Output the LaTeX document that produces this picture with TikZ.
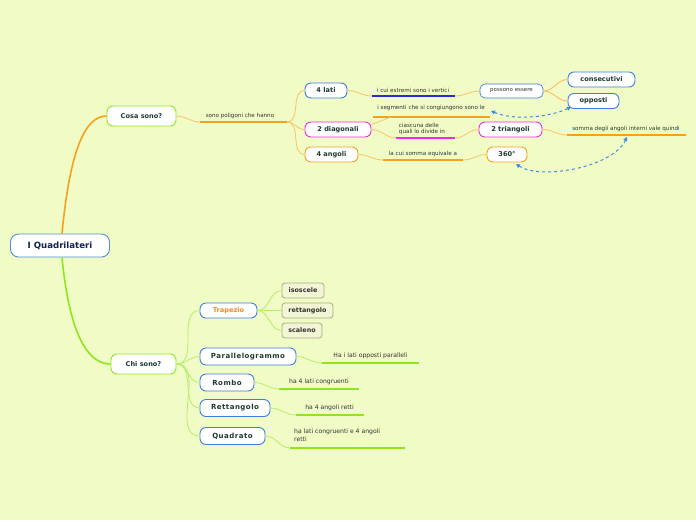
\documentclass[tikz,border=0pt]{standalone}
\usepackage{fontspec}
\setmainfont{DejaVu Sans}
\usetikzlibrary{arrows.meta}
\definecolor{bg}{HTML}{F1FBC5}
\definecolor{morange}{HTML}{F7A01E}
\definecolor{lorange}{HTML}{F8C46A}
\definecolor{mgreen}{HTML}{8EE61E}
\definecolor{lgreen}{HTML}{B6EE6A}
\definecolor{bblue}{HTML}{3C7FE2}
\definecolor{rblue}{HTML}{4A92D4}
\definecolor{mag}{HTML}{F02CE0}
\definecolor{gbord}{HTML}{A9AC84}
\definecolor{gfill}{HTML}{F3F6D4}
\definecolor{txt}{HTML}{1E3A2E}
\definecolor{rtxt}{HTML}{102050}
\definecolor{ltxt}{HTML}{333333}
\definecolor{dblue}{HTML}{2A2AD6}
\definecolor{dash}{HTML}{3A8EE2}
\definecolor{trap}{HTML}{F08A2A}
\tikzset{
  box/.style={draw, line width=0.9pt, rounded corners=6pt, fill=white, text=txt,
    font=\bfseries\fontsize{6.6}{8}\selectfont, minimum height=15pt, inner sep=1pt},
  bigbox/.style={box, font=\bfseries\fontsize{7}{8}\selectfont\addfontfeature{LetterSpace=7}, minimum height=17pt},
  gbox/.style={draw=gbord, line width=0.8pt, rounded corners=3pt, fill=gfill, text=ltxt,
    font=\bfseries\fontsize{6.4}{8}\selectfont, minimum height=15pt, inner sep=1pt},
  lab/.style={text=ltxt, font=\fontsize{5.6}{6.8}\selectfont, inner sep=0pt},
  blab/.style={text=ltxt, font=\fontsize{6.1}{8.4}\selectfont, inner sep=0pt},
  conO/.style={draw=lorange, line width=0.8pt},
  conG/.style={draw=lgreen, line width=0.8pt},
  ulO/.style={draw=morange, line width=1.4pt},
  ulG/.style={draw=mgreen, line width=1.4pt},
  darr/.style={draw=dash, line width=1pt, dashed, {Triangle[length=4pt,width=4pt]}-{Triangle[length=4pt,width=4pt]}},
}
\begin{document}
\begin{tikzpicture}[x=1pt,y=-1pt]
\fill[bg] (0,0) rectangle (696,520);
\useasboundingbox (0,0) rectangle (696,520);

% root and main topics
\node[draw=rblue, line width=0.9pt, rounded corners=8pt, fill=white, text=rtxt,
  font=\bfseries\fontsize{8.6}{10}\selectfont, minimum width=99pt, minimum height=23pt] (root) at (60,245.5) {I Quadrilateri};
\node[box, draw=mgreen, minimum width=69pt, minimum height=20pt] (cosa) at (141.5,116) {Cosa sono?};
\node[box, draw=mgreen, minimum width=65pt, minimum height=20pt] (chi) at (143.5,364) {Chi sono?};

\draw[draw=morange, line width=1.6pt] (root.north) ++(2,0) coordinate (rt) .. controls (70,150) and (85,116) .. (cosa.west);
\draw[draw=mgreen, line width=1.6pt] (root.south) ++(2,0) coordinate (rb) .. controls (70,340) and (90,364) .. (chi.west);

% Cosa sono branch
\node[lab] (spn) at (240,116) {sono poligoni che hanno};
\coordinate (u1a) at (200,122); \coordinate (u1b) at (287,122);
\draw[ulO] (u1a) -- (u1b);
\draw[conO] (cosa.east) to[out=0,in=180] (u1a);

\node[box, draw=bblue, minimum width=42pt] (lati) at (326,90.5) {4 lati};
\node[box, draw=mag, minimum width=66pt] (diag) at (338,129.5) {2 diagonali};
\node[box, draw=morange, minimum width=53pt] (ang) at (331.5,154.5) {4 angoli};
\draw[conO] (u1b) to[out=0,in=180] (lati.west);
\draw[conO] (u1b) to[out=0,in=180] (diag.west);
\draw[conO] (u1b) to[out=0,in=180] (ang.west);

% 4 lati
\node[lab] (est) at (413,90) {i cui estremi sono i vertici};
\coordinate (u2a) at (372,96); \coordinate (u2b) at (455,96);
\draw[draw=dblue, line width=1.4pt] (u2a) -- (u2b);
\draw[conO] (lati.east) to[out=0,in=180] (u2a);
\node[box, draw=bblue, line width=0.7pt, font=\fontsize{5.5}{6.5}\selectfont, text=ltxt, minimum width=63pt, minimum height=14pt, rounded corners=5pt] (pos) at (511.5,91) {possono essere};
\draw[conO] (u2b) to[out=0,in=180] (pos.west);
\node[box, draw=bblue, minimum width=67pt] (cons) at (601.5,79.5) {consecutivi};
\node[box, draw=bblue, minimum width=51pt] (opp) at (593.5,101) {opposti};
\draw[conO, line width=1pt] (pos.east) to[out=0,in=180] (cons.west);
\draw[conO, line width=1pt] (pos.east) to[out=0,in=180] (opp.west);

% 2 diagonali
\node[lab] (seg) at (431,108) {i segmenti che si congiungono sono le};
\coordinate (u3a) at (373,117); \coordinate (u3b) at (490,117);
\draw[ulO] (u3a) -- (u3b);
\coordinate (segc) at (391,117);
\draw[conO] (diag.north east) ++(0,3) coordinate (dne) -- (segc);
\node[lab, align=left] (cia) at (422,129) {ciascuna delle\\quali lo divide in};
\coordinate (u4a) at (396,138); \coordinate (u4b) at (455,138);
\draw[draw=mag, line width=1.4pt] (u4a) -- (u4b);
\draw[conO] (diag.east) to[out=0,in=180] (u4a);
\node[box, draw=mag, minimum width=63pt] (tri) at (510.5,129.5) {2 triangoli};
\draw[conO] (u4b) to[out=0,in=180] (tri.west);
\node[lab] (som) at (626,128.5) {somma degli angoli interni vale quindi};
\coordinate (u5a) at (567,135); \coordinate (u5b) at (686,135);
\draw[ulO] (u5a) -- (u5b);
\draw[conO] (tri.east) to[out=0,in=180] (u5a);

% 4 angoli
\node[lab] (cui) at (423,154) {la cui somma equivale a};
\coordinate (u6a) at (383,160); \coordinate (u6b) at (463,160);
\draw[ulO] (u6a) -- (u6b);
\draw[conO] (ang.east) to[out=0,in=180] (u6a);
\node[box, draw=morange, minimum width=40pt] (gradi) at (507,154.5) {360°};
\draw[conO] (u6b) to[out=0,in=180] (gradi.west);

% dashed relations
\coordinate (segend) at (491,111);
\coordinate (oppend) at (571,107);
\draw[darr] (segend) .. controls (515,121) and (550,117) .. (oppend);
\coordinate (gradend) at (516,164);
\coordinate (somend) at (627,137);
\draw[darr] (gradend) .. controls (540,180) and (612,168) .. (somend);

% Chi sono branch
\node[box, draw=bblue, text=trap, minimum width=57pt] (trap) at (228.5,310.5) {Trapezio};
\node[gbox, minimum width=42pt] (iso) at (303,290.5) {isoscele};
\node[gbox, minimum width=51pt] (ret) at (307.5,310.5) {rettangolo};
\node[gbox, minimum width=40pt] (sca) at (302,330.5) {scaleno};
\draw[conG] (trap.east) to[out=0,in=180] (iso.west);
\draw[conG] (trap.east) to[out=0,in=180] (ret.west);
\draw[conG] (trap.east) to[out=0,in=180] (sca.west);

\node[bigbox, draw=bblue, minimum width=96pt] (par) at (248,356.5) {Parallelogrammo};
\node[bigbox, draw=bblue, minimum width=54pt] (rom) at (227,382.5) {Rombo};
\node[bigbox, draw=bblue, minimum width=70pt] (rett) at (235,408) {Rettangolo};
\node[bigbox, draw=bblue, minimum width=65pt] (quad) at (232.5,436) {Quadrato};
\foreach \n in {trap,par,rom,rett,quad}
  \draw[conG] (chi.east) to[out=0,in=180] (\n.west);

\node[blab] (l1) at (370.5,356) {Ha i lati opposti paralleli};
\coordinate (u7a) at (322,363); \coordinate (u7b) at (419,363);
\draw[ulG] (u7a) -- (u7b);
\draw[conG] (par.east) to[out=0,in=180] (u7a);

\node[blab] (l2) at (319,382) {ha 4 lati congruenti};
\coordinate (u8a) at (279,389); \coordinate (u8b) at (359,389);
\draw[ulG] (u8a) -- (u8b);
\draw[conG] (rom.east) to[out=0,in=180] (u8a);

\node[blab] (l3) at (329.5,408) {ha 4 angoli retti};
\coordinate (u9a) at (296,415); \coordinate (u9b) at (364,415);
\draw[ulG] (u9a) -- (u9b);
\draw[conG] (rett.east) to[out=0,in=180] (u9a);

\node[blab, align=left, anchor=west] (l4) at (294,435.5) {ha lati congruenti e 4 angoli\\retti};
\coordinate (u10a) at (290,448); \coordinate (u10b) at (405,448);
\draw[ulG] (u10a) -- (u10b);
\draw[conG] (quad.east) to[out=0,in=180] (u10a);
\end{tikzpicture}
\end{document}
